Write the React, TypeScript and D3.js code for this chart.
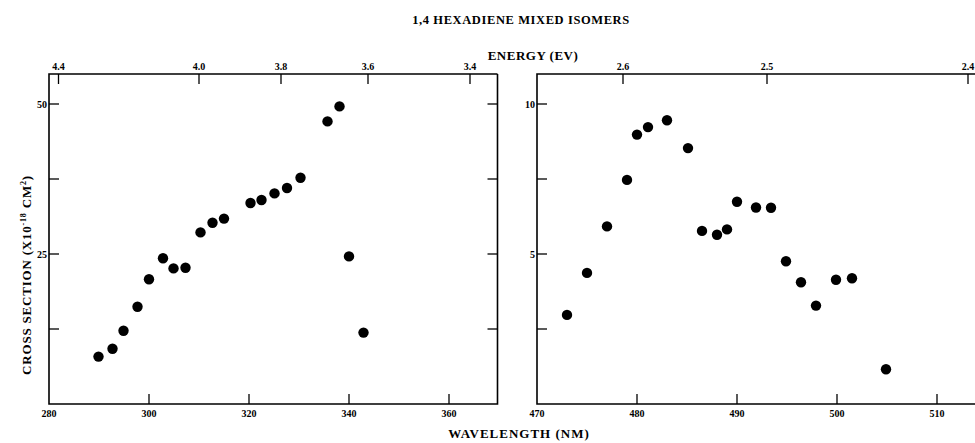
import React from 'react';
import * as d3 from 'd3';

// 1,4 hexadiene, mixed isomers: cross section against wavelength
const uvWavelength = [289.9, 292.7, 294.9, 297.7, 300.0, 302.8, 304.9, 307.3, 310.3, 312.7,
  315.0, 320.3, 322.5, 325.1, 327.6, 330.3, 335.7, 338.1, 340.0, 342.9];
const uvCross = [7.9, 9.2, 12.2, 16.2, 20.8, 24.3, 22.6, 22.7, 28.6, 30.2,
  30.9, 33.5, 34.0, 35.1, 36.0, 37.7, 47.1, 49.6, 24.6, 11.9];

const visWavelength = [473.0, 475.0, 477.0, 479.0, 480.0, 481.1, 483.0, 485.1, 486.5, 488.0,
  489.0, 490.0, 491.9, 493.4, 494.9, 496.4, 497.9, 499.9, 501.5, 504.9];
const visCross = [2.97, 4.37, 5.92, 7.47, 8.98, 9.23, 9.46, 8.53, 5.77, 5.64,
  5.82, 6.74, 6.55, 6.54, 4.76, 4.06, 3.28, 4.14, 4.19, 1.16];

// tick labels
const uvWaveTicks = [300, 320, 340, 360];
const visWaveTicks = [480, 490, 500, 510];
const uvEnergyLabels = ['4.4', '4.0', '3.8', '3.6', '3.4'];
const uvEnergyAtNm = [281.9, 310.0, 326.4, 343.8, 364.2];
const visEnergyLabels = ['2.6', '2.5', '2.4'];
const visEnergyAtNm = [478.6, 493.0, 513.1];
const uvCrossTicks = [12.5, 25, 37.5, 50];
const visCrossTicks = [2.5, 5, 7.5, 10];

const font = '"Liberation Serif", "Times New Roman", serif';
const top = 74;
const bottom = 404;
const tickLen = 10;

type PanelProps = {
  xs: number[];
  ys: number[];
  xDomain: [number, number];
  xRange: [number, number];
  yMax: number;
  waveTicks: number[];
  energyLabels: string[];
  energyAt: number[];
  crossTicks: number[];
  rightEdge: boolean;
};

const Panel = ({ xs, ys, xDomain, xRange, yMax, waveTicks, energyLabels, energyAt, crossTicks, rightEdge }: PanelProps) => {
  const x = d3.scaleLinear().domain(xDomain).range(xRange);
  const y = d3.scaleLinear().domain([0, yMax]).range([bottom, top]);
  const [x0, x1] = xRange;

  return (
    <g>
      {/* frame */}
      <path
        d={`M${x1},${top}H${x0}V${bottom}H${x1}${rightEdge ? `V${top}` : ''}`}
        fill="none"
        stroke="#000"
        strokeWidth={1.6}
      />

      {/* wavelength ticks (bottom) */}
      {waveTicks.map(t => (
        <g key={`w${t}`}>
          <line x1={x(t)} x2={x(t)} y1={bottom} y2={bottom - tickLen} stroke="#000" strokeWidth={1.3} />
        </g>
      ))}
      {[xDomain[0], ...waveTicks].map(t => (
        <text key={`wl${t}`} x={x(t)} y={417} textAnchor="middle" fontSize={10} fontWeight="bold" fontFamily={font}>
          {t}
        </text>
      ))}

      {/* energy ticks (top) */}
      {energyAt.map((nm, i) => (
        <g key={`e${i}`}>
          <line x1={x(nm)} x2={x(nm)} y1={top} y2={top + tickLen} stroke="#000" strokeWidth={1.3} />
          <text x={x(nm)} y={70} textAnchor="middle" fontSize={10} fontWeight="bold" fontFamily={font}>
            {energyLabels[i]}
          </text>
        </g>
      ))}

      {/* cross section ticks */}
      {crossTicks.map((t, i) => (
        <g key={`c${t}`}>
          <line x1={x0} x2={x0 + tickLen} y1={y(t)} y2={y(t)} stroke="#000" strokeWidth={1.3} />
          {rightEdge && (
            <line x1={x1} x2={x1 - tickLen} y1={y(t)} y2={y(t)} stroke="#000" strokeWidth={1.3} />
          )}
          {i % 2 === 1 && (
            <text x={x0 - 2} y={y(t) + 3.5} textAnchor="end" fontSize={10} fontWeight="bold" fontFamily={font}>
              {t}
            </text>
          )}
        </g>
      ))}

      {/* points */}
      {xs.map((v, i) => (
        <circle key={i} cx={x(v)} cy={y(ys[i])} r={5.2} fill="#000" />
      ))}
    </g>
  );
};

const App = () => {
  return (
    <svg
      width={975}
      height={443}
      style={{ position: 'absolute', left: 0, top: 0, background: '#fff' }}
    >
      <rect width={975} height={443} fill="#fff" />

      <text x={521} y={24} textAnchor="middle" fontSize={12.5} fontWeight="bold" fontFamily={font} letterSpacing={0.6}>
        1,4 HEXADIENE MIXED ISOMERS
      </text>
      <text x={533} y={60} textAnchor="middle" fontSize={13} fontWeight="bold" fontFamily={font} letterSpacing={0.5}>
        ENERGY (EV)
      </text>
      <text x={519} y={438} textAnchor="middle" fontSize={13} fontWeight="bold" fontFamily={font} letterSpacing={1}>
        WAVELENGTH (NM)
      </text>
      <text
        transform="translate(31,275) rotate(-90)"
        textAnchor="middle"
        fontSize={13}
        fontWeight="bold"
        fontFamily={font}
        letterSpacing={0.8}
      >
        CROSS SECTION (X10
        <tspan fontSize={8} dy={-5}>-18</tspan>
        <tspan dy={5}> CM</tspan>
        <tspan fontSize={8} dy={-5}>2</tspan>
        <tspan dy={5}>)</tspan>
      </text>

      <Panel
        xs={uvWavelength}
        ys={uvCross}
        xDomain={[280, 369.7]}
        xRange={[49, 497.5]}
        yMax={55}
        waveTicks={uvWaveTicks}
        energyLabels={uvEnergyLabels}
        energyAt={uvEnergyAtNm}
        crossTicks={uvCrossTicks}
        rightEdge={true}
      />
      <Panel
        xs={visWavelength}
        ys={visCross}
        xDomain={[470, 515]}
        xRange={[537, 987]}
        yMax={11}
        waveTicks={visWaveTicks}
        energyLabels={visEnergyLabels}
        energyAt={visEnergyAtNm}
        crossTicks={visCrossTicks}
        rightEdge={false}
      />
    </svg>
  );
};

export default App;
